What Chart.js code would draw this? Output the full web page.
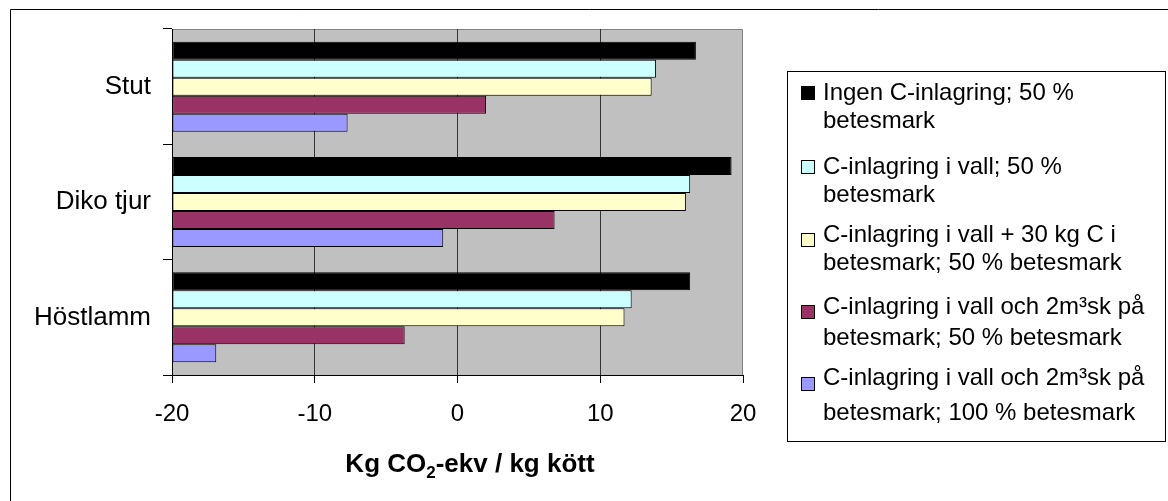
<!DOCTYPE html>
<html>
<head>
<meta charset="utf-8">
<script src="https://cdn.jsdelivr.net/npm/chart.js@4.4.0/dist/chart.umd.min.js"></script>
<style>
    html, body { margin: 0; padding: 0; background: #fff; }
    #wrap { width: 1168px; height: 501px; }
</style>
</head>
<body>
<div id="wrap"><canvas id="co2Chart" width="1168" height="501"></canvas></div>
<script>
// Data
const categories = ['Stut', 'Diko tjur', 'Höstlamm'];
const seriesLabels = [
    ['Ingen C-inlagring; 50 %', 'betesmark'],
    ['C-inlagring i vall; 50 %', 'betesmark'],
    ['C-inlagring i vall + 30 kg C i', 'betesmark; 50 % betesmark'],
    ['C-inlagring i vall och 2m\u00B3sk på', 'betesmark; 50 % betesmark'],
    ['C-inlagring i vall och 2m\u00B3sk på', 'betesmark; 100 % betesmark']
];
const ingenC = [16.7, 19.2, 16.3];
const cVall = [13.9, 16.3, 12.2];
const cVallBete = [13.6, 16.0, 11.7];
const cVallSk50 = [2.0, 6.8, -3.7];
const cVallSk100 = [-7.7, -1.0, -16.9];
const xTicks = [-20, -10, 0, 10, 20];
const seriesColors = ['#000000', '#CCFFFF', '#FFFFCC', '#993366', '#9999FF'];

const FONT = "'Liberation Sans', Arial, sans-serif";

// Plot background, frame, axis title and the Excel-style legend box
const excelFrame = {
    id: 'excelFrame',
    beforeDraw(chart) {
        const { ctx, chartArea: a } = chart;
        ctx.save();
        ctx.fillStyle = '#ffffff';
        ctx.fillRect(0, 0, chart.width, chart.height);
        ctx.strokeStyle = '#000000';
        ctx.lineWidth = 1;
        ctx.beginPath();
        ctx.moveTo(10.5, chart.height);
        ctx.lineTo(10.5, 9.5);
        ctx.lineTo(chart.width, 9.5);
        ctx.stroke();
        ctx.fillStyle = '#C0C0C0';
        ctx.fillRect(a.left, a.top, a.right - a.left, a.bottom - a.top);
        ctx.strokeStyle = '#808080';
        ctx.beginPath();
        ctx.moveTo(a.left, a.top + 0.5);
        ctx.lineTo(a.right - 0.5, a.top + 0.5);
        ctx.lineTo(a.right - 0.5, a.bottom);
        ctx.stroke();
        ctx.restore();
    },
    afterDraw(chart) {
        const ctx = chart.ctx;
        ctx.save();

        // x axis title with a real subscript 2
        const parts = [['Kg CO', 26, 0], ['2', 17, 6], ['-ekv / kg kött', 26, 0]];
        let total = 0;
        parts.forEach(p => {
            ctx.font = 'bold ' + p[1] + 'px ' + FONT;
            total += ctx.measureText(p[0]).width;
        });
        let x = 470 - total / 2;
        ctx.fillStyle = '#000000';
        ctx.textBaseline = 'alphabetic';
        parts.forEach(p => {
            ctx.font = 'bold ' + p[1] + 'px ' + FONT;
            ctx.fillText(p[0], x, 472 + p[2]);
            x += ctx.measureText(p[0]).width;
        });

        // legend
        const lineY = [[93, 121], [167, 195], [235, 263], [307, 338], [378, 413]];
        const boxY = [86, 160, 233, 305, 377];
        ctx.strokeStyle = '#000000';
        ctx.lineWidth = 1;
        ctx.strokeRect(787.5, 71.5, 378, 370);
        ctx.font = '24px ' + FONT;
        ctx.textBaseline = 'middle';
        chart.data.datasets.forEach((ds, i) => {
            ctx.fillStyle = ds.backgroundColor;
            ctx.fillRect(801, boxY[i], 13, 13);
            ctx.strokeRect(801.5, boxY[i] + 0.5, 13, 13);
            ctx.fillStyle = '#000000';
            ds.label.forEach((line, j) => {
                ctx.fillText(line, 823, lineY[i][j]);
            });
        });
        ctx.restore();
    }
};

const allSeries = [ingenC, cVall, cVallBete, cVallSk50, cVallSk100];

new Chart(document.getElementById('co2Chart').getContext('2d'), {
    type: 'bar',
    data: {
        labels: categories,
        datasets: allSeries.map((values, i) => ({
            label: seriesLabels[i],
            data: values,
            base: -20,
            backgroundColor: seriesColors[i],
            borderColor: '#000000',
            borderWidth: 1,
            borderSkipped: false,
            categoryPercentage: 0.78,
            barPercentage: 1.0
        }))
    },
    options: {
        indexAxis: 'y',
        responsive: false,
        animation: false,
        devicePixelRatio: 1,
        layout: {
            padding: { top: 29, right: 425, left: 0, bottom: 0 }
        },
        plugins: {
            legend: { display: false },
            tooltip: { enabled: false }
        },
        scales: {
            x: {
                min: -20,
                max: 20,
                afterFit: scale => { scale.height = 126; },
                afterBuildTicks: scale => { scale.ticks = xTicks.map(v => ({ value: v })); },
                grid: {
                    color: ctx => (ctx.tick && (ctx.tick.value === -20 || ctx.tick.value === 20)) ? 'rgba(0,0,0,0)' : '#333333',
                    tickColor: '#000000',
                    tickLength: 8
                },
                border: { color: '#000000' },
                ticks: {
                    color: '#000000',
                    padding: 17,
                    font: { family: FONT, size: 24 }
                },
                title: { display: false }
            },
            y: {
                afterFit: scale => { scale.width = 172; },
                grid: {
                    drawOnChartArea: false,
                    tickColor: '#000000',
                    tickLength: 9
                },
                border: { color: '#000000' },
                ticks: {
                    color: '#000000',
                    padding: 12,
                    font: { family: FONT, size: 26 }
                }
            }
        }
    },
    plugins: [excelFrame]
});
</script>
</body>
</html>
